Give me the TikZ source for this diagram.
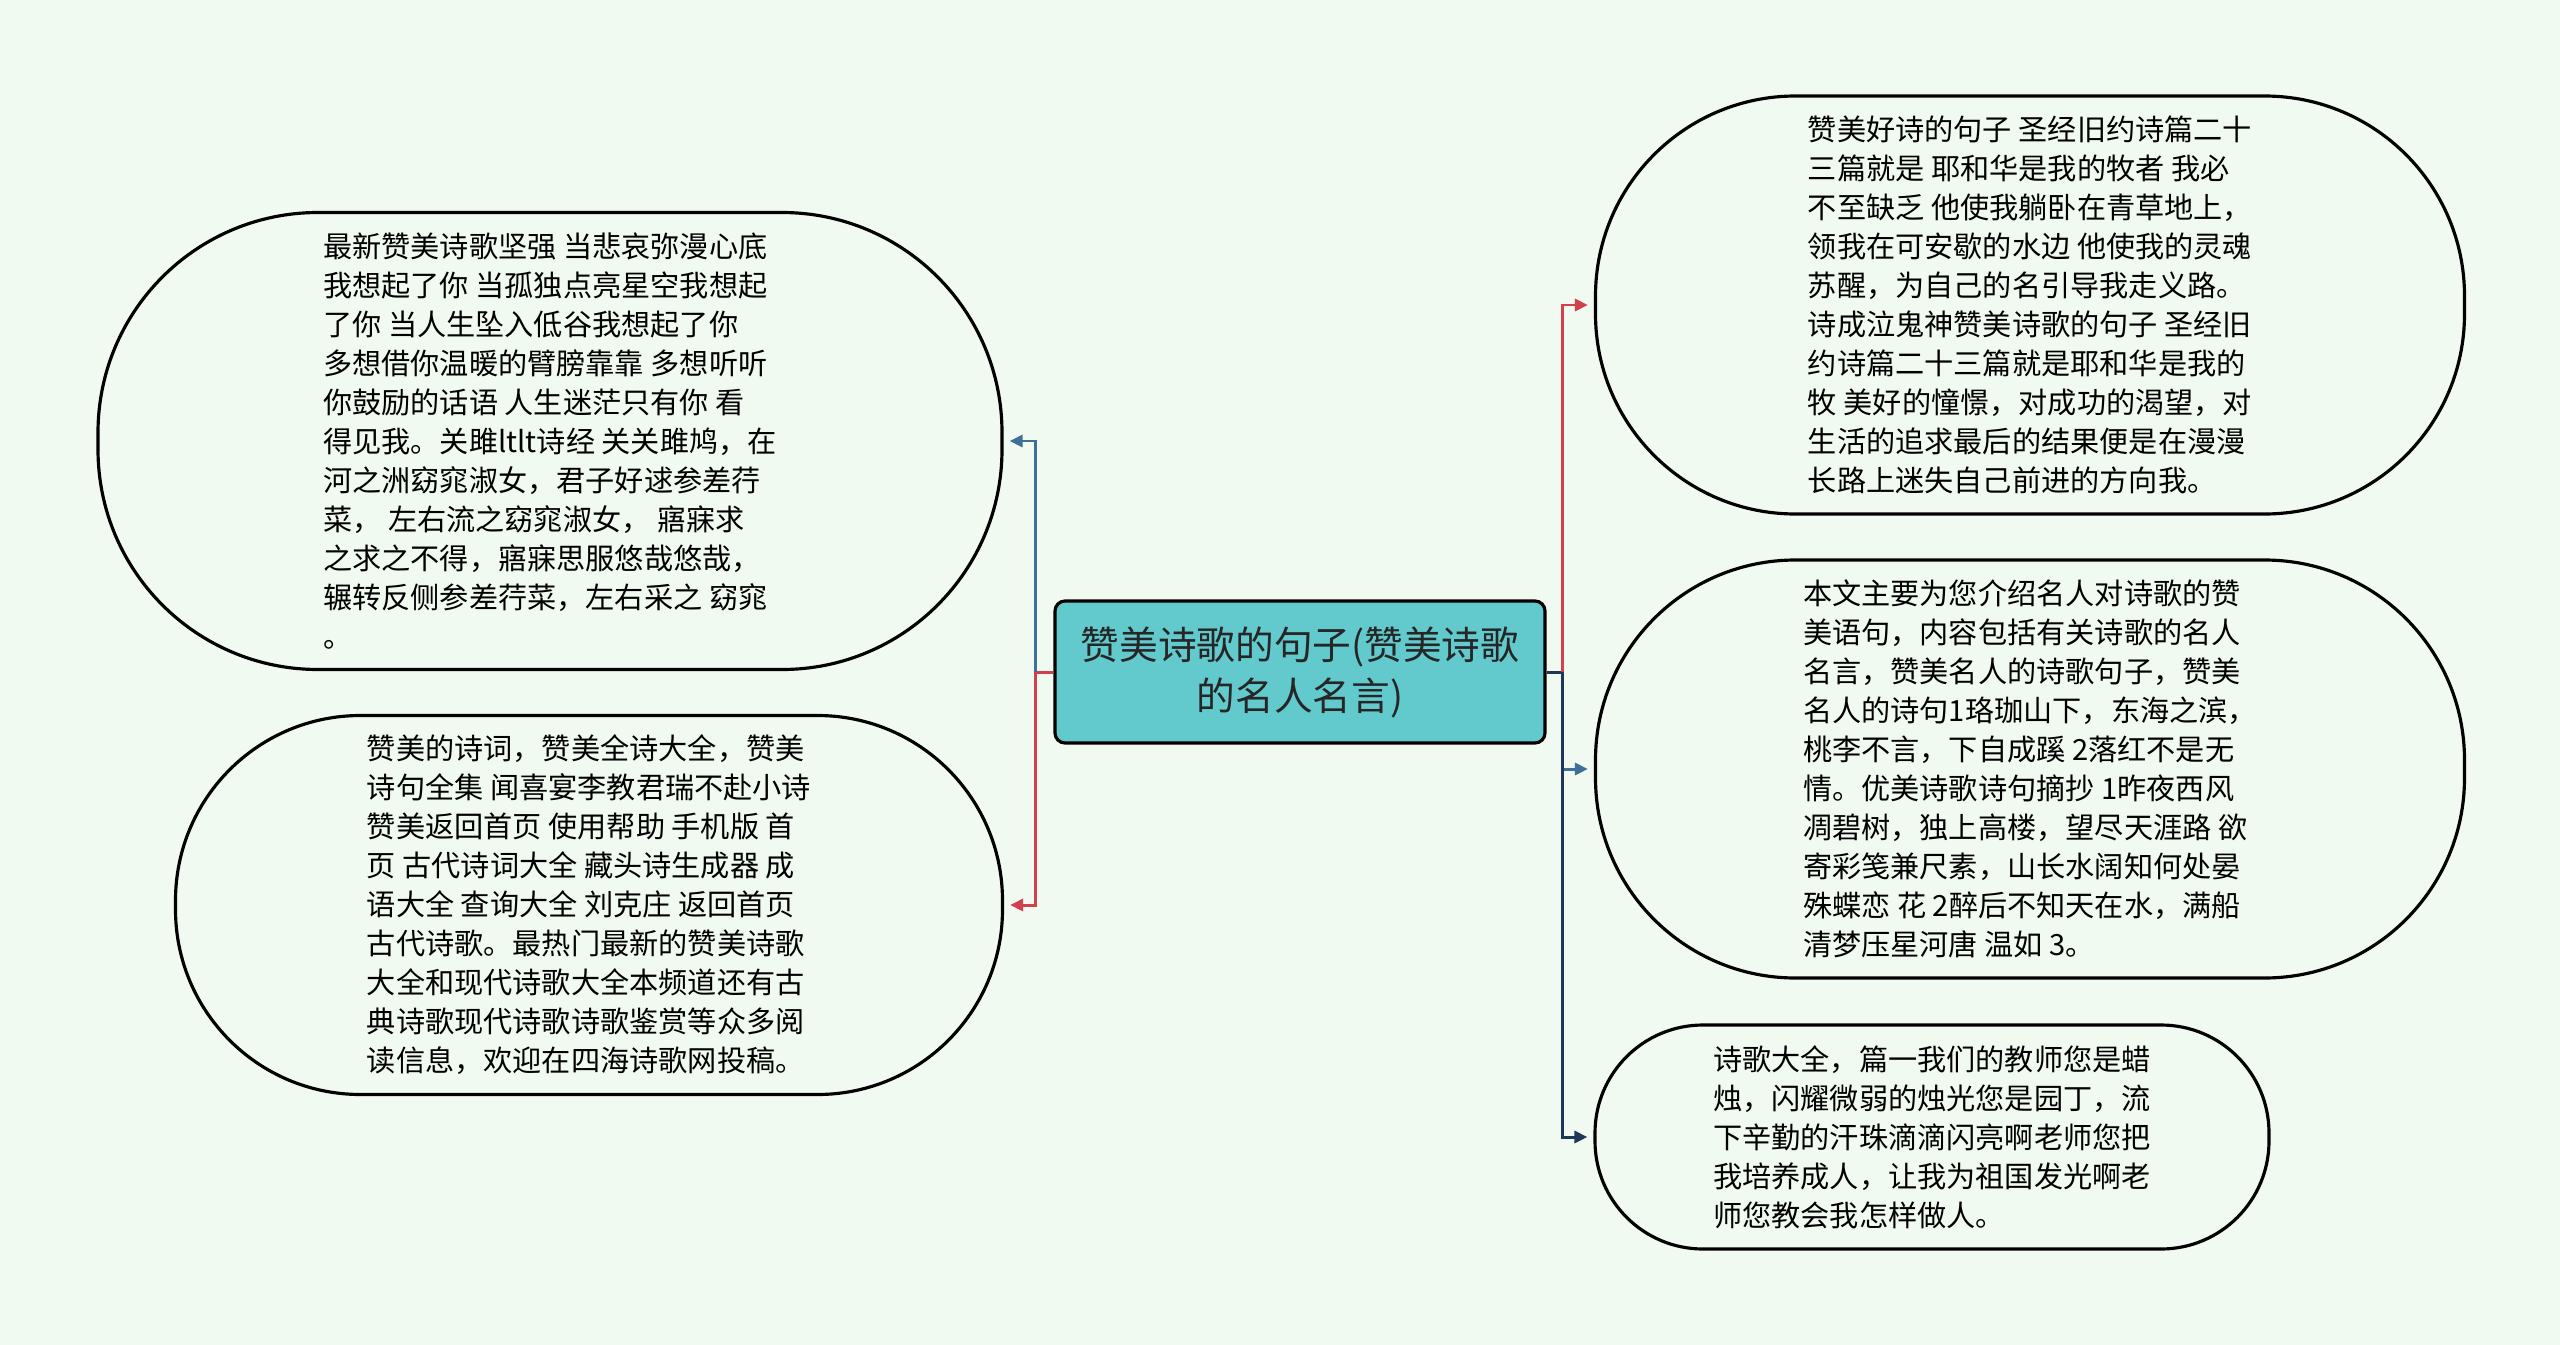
\documentclass[tikz,border=0pt]{standalone}
\usepackage{fontspec}
\setmainfont{Noto Sans CJK SC}
\usetikzlibrary{positioning, arrows.meta}

\definecolor{bgcol}{HTML}{F1FAF0}
\definecolor{rootcol}{HTML}{62C9CC}
\definecolor{redcol}{HTML}{D2404D}
\definecolor{bluecol}{HTML}{3E7098}
\definecolor{navycol}{HTML}{1F3658}

\begin{document}
\begin{tikzpicture}[
  rootbox/.style={draw=black, line width=0.9pt, fill=rootcol, rounded corners=0.1cm, align=center, text=black!85,
    minimum width=4.9cm, minimum height=1.42cm, font=\fontsize{11pt}{14.5pt}\selectfont},
  bubble/.style={draw=black, line width=0.9pt, fill=bgcol, rounded corners=#1, align=left, inner sep=0pt,
    font=\fontsize{8.3pt}{11.1pt}\selectfont},
  link/.style={line width=0.85pt},
  arrow/.style={link, -{Triangle[length=0.13cm, width=0.12cm]}, shorten >=0.06cm}
]
  % page
  \fill[bgcol] (0,0) rectangle (25.6,-13.45);
  \useasboundingbox (0,0) rectangle (25.6,-13.45);

  % centre
  \node[rootbox] (root) at (13.0,-6.72) {赞美诗歌的句子(赞美诗歌\\的名人名言)};

  % left side
  \node[bubble=2.2cm, minimum width=9.04cm, minimum height=4.57cm] (lt) at (5.50,-4.41) {最新赞美诗歌坚强 当悲哀弥漫心底\\我想起了你 当孤独点亮星空我想起\\了你 当人生坠入低谷我想起了你\\多想借你温暖的臂膀靠靠 多想听听\\你鼓励的话语 人生迷茫只有你 看\\得见我。关雎ltlt诗经 关关雎鸠，在\\河之洲窈窕淑女，君子好逑参差荇\\菜，\ 左右流之窈窕淑女，\ 寤寐求\\之求之不得，寤寐思服悠哉悠哉，\\辗转反侧参差荇菜，左右采之 窈窕\\。};
  \node[bubble=1.85cm, minimum width=8.27cm, minimum height=3.79cm] (lb) at (5.89,-9.05) {赞美的诗词，赞美全诗大全，赞美\\诗句全集 闻喜宴李教君瑞不赴小诗\\赞美返回首页 使用帮助 手机版 首\\页 古代诗词大全 藏头诗生成器 成\\语大全 查询大全 刘克庄 返回首页\\古代诗歌。最热门最新的赞美诗歌\\大全和现代诗歌大全本频道还有古\\典诗歌现代诗歌诗歌鉴赏等众多阅\\读信息，欢迎在四海诗歌网投稿。};

  % right side
  \node[bubble=2.0cm, minimum width=8.69cm, minimum height=4.18cm] (rt) at (20.30,-3.05) {赞美好诗的句子 圣经旧约诗篇二十\\三篇就是 耶和华是我的牧者 我必\\不至缺乏 他使我躺卧在青草地上，\\领我在可安歇的水边 他使我的灵魂\\苏醒，为自己的名引导我走义路。\\诗成泣鬼神赞美诗歌的句子 圣经旧\\约诗篇二十三篇就是耶和华是我的\\牧 美好的憧憬，对成功的渴望，对\\生活的追求最后的结果便是在漫漫\\长路上迷失自己前进的方向我。};
  \node[bubble=2.0cm, minimum width=8.69cm, minimum height=4.18cm] (rm) at (20.30,-7.69) {本文主要为您介绍名人对诗歌的赞\\美语句，内容包括有关诗歌的名人\\名言，赞美名人的诗歌句子，赞美\\名人的诗句1珞珈山下，东海之滨，\\桃李不言，下自成蹊 2落红不是无\\情。优美诗歌诗句摘抄 1昨夜西风\\凋碧树，独上高楼，望尽天涯路 欲\\寄彩笺兼尺素，山长水阔知何处晏\\殊蝶恋 花 2醉后不知天在水，满船\\清梦压星河唐 温如 3。};
  \node[bubble=1.08cm, minimum width=6.74cm, minimum height=2.24cm] (rb) at (19.32,-11.37) {诗歌大全，篇一我们的教师您是蜡\\烛，闪耀微弱的烛光您是园丁，流\\下辛勤的汗珠滴滴闪亮啊老师您把\\我培养成人，让我为祖国发光啊老\\师您教会我怎样做人。};

  % joints
  \coordinate (lj) at (10.35,-6.72);
  \coordinate (rj) at (15.62,-6.72);

  % connectors
  \draw[link, redcol] (root.west) -- (lj);
  \draw[arrow, bluecol] (lj) |- (lt.east);
  \draw[arrow, redcol] (lj) |- (lb.east);
  \draw[link, navycol] (root.east) -- (rj);
  \draw[arrow, redcol] (rj) |- (rt.west);
  \draw[arrow, bluecol] (rj) |- (rm.west);
  \draw[arrow, navycol] (rj) |- (rb.west);
\end{tikzpicture}
\end{document}
